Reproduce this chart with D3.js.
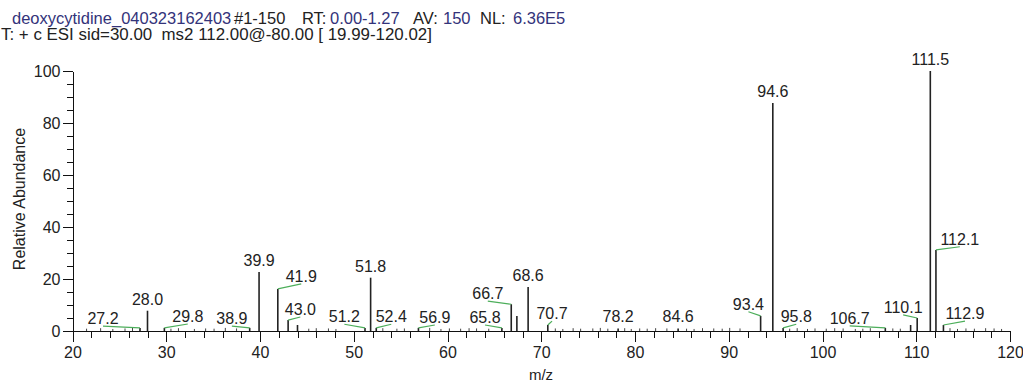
<!DOCTYPE html>
<html>
<head>
<meta charset="utf-8">
<script src="https://cdn.jsdelivr.net/npm/d3@7"></script>
<style>
	body { margin: 0; background: #fff; }
	svg { display: block; font-family: "Liberation Sans", Arial, sans-serif; }
	.axis path, .axis line { stroke: #111; shape-rendering: crispEdges; }
	.axis text { font-size: 16px; fill: #222; font-family: "Liberation Sans", Arial, sans-serif; }
	.peak { stroke: #222; stroke-width: 1.6; }
	.noise { stroke: #444; stroke-width: 1; }
	.peak-label { font-size: 16px; fill: #222; }
	.leader { stroke: #4cae5a; stroke-width: 1.2; fill: none; }
	.hdr { white-space: pre; }
	.hdr-key { fill: #222; }
	.hdr-val { fill: #33337a; }
</style>
</head>
<body>
<svg id="spectrum" width="1023" height="383" viewBox="0 0 1023 383"></svg>
<script>

// peaks (m/z, relative abundance %)
const PEAK_MZ = [27.2, 28.0, 29.8, 38.9, 39.9, 41.9, 43.0, 44.0, 51.2, 51.8, 52.4, 56.9, 65.8, 66.8, 67.4, 68.6, 70.7, 78.2, 84.6, 93.4, 94.7, 95.8, 106.7, 109.4, 110.1, 111.5, 112.1, 112.9];
const PEAK_AB = [1.2, 7.8, 1.2, 1.2, 22.7, 16.2, 4.2, 2.3, 1.2, 20.5, 1.2, 1.2, 1.2, 10.3, 5.8, 16.9, 2.3, 1.0, 1.0, 5.8, 87.7, 1.2, 1.2, 2.3, 5.0, 100, 31.2, 2.3];
const PEAK_LABEL = ['27.2', '28.0', '29.8', '38.9', '39.9', '41.9', '43.0', '', '51.2', '51.8', '52.4', '56.9', '65.8', '66.7', '', '68.6', '70.7', '78.2', '84.6', '93.4', '94.6', '95.8', '106.7', '', '110.1', '111.5', '112.1', '112.9'];
// where the software moved a label to (m/z, abundance); null = right above the peak
const LABEL_MZ = [23.25, null, 32.3, 37.0, null, 44.4, 44.3, null, 49.0, null, 54.0, 58.65, 64.0, 64.3, null, null, 71.15, null, null, 92.1, null, 97.2, 102.9, null, 108.6, null, 114.65, 115.2];
const LABEL_AB = [1.9, null, 2.7, 1.9, null, 18.1, 5.4, null, 2.6, null, 2.6, 2.3, 2.3, 11.5, null, null, 3.8, null, null, 7.4, null, 2.6, 2.0, null, 6.2, null, 32.4, 3.8];

// baseline noise specks
const NOISE_MZ = [21.5, 23.0, 24.3, 25.6, 26.4, 30.5, 31.3, 33.0, 34.2, 35.1, 36.3, 37.5, 45.2, 46.0, 47.3, 48.1, 53.1, 54.6, 55.4, 58.1, 59.3, 60.2, 61.4, 62.3, 63.1, 64.4, 71.5, 72.3, 73.4, 74.2, 75.5, 76.3, 77.1, 78.9, 79.6, 80.5, 81.3, 82.2, 83.4, 85.5, 86.3, 87.2, 88.4, 89.3, 90.1, 91.2, 96.5, 97.3, 98.4, 99.2, 100.4, 101.3, 102.2, 103.5, 104.3, 105.1, 107.5, 108.3, 113.6, 114.4, 115.3, 116.2, 117.4, 118.3, 119.1];
const NOISE_AB = [0.5, 0.7, 0.4, 0.6, 0.8, 0.5, 0.7, 0.4, 0.6, 0.5, 0.8, 0.6, 0.5, 0.7, 0.6, 0.4, 0.7, 0.5, 0.6, 0.8, 0.4, 0.6, 0.5, 0.7, 0.6, 0.5, 0.6, 0.4, 0.7, 0.5, 0.6, 0.8, 0.5, 0.7, 0.4, 0.6, 0.5, 0.7, 0.6, 0.5, 0.4, 0.7, 0.6, 0.5, 0.8, 0.6, 0.5, 0.7, 0.4, 0.6, 0.5, 0.7, 0.6, 0.4, 0.5, 0.7, 0.6, 0.5, 0.7, 0.4, 0.6, 0.5, 0.7, 0.6, 0.4];

const X_DOMAIN = [20, 120];
const Y_DOMAIN = [0, 100];
const X_MAJOR = d3.range(20, 121, 10);
const X_MINOR = d3.range(20, 121, 2);
const Y_MAJOR = d3.range(0, 101, 20);
const Y_MINOR = d3.range(0, 101, 5);

// header pieces: [text, is value, x]
const HEADER_1 = [['deoxycytidine_040323162403', true, 12], ['#1-150', false, 234], ['RT:', false, 302], ['0.00-1.27', true, 330],
	['AV:', false, 413], ['150', true, 443], ['NL:', false, 480], ['6.36E5', true, 513]];
const HEADER_2 = [['T: + c ESI sid=30.00  ms2 112.00@-80.00 [ 19.99-120.02]', false, 1]];

class SpectrumPlot {
	constructor(svg_element_id) {
		this.svg = d3.select('#' + svg_element_id);

		const x = d3.scaleLinear().domain(X_DOMAIN).range([72.5, 1010]);
		const y = d3.scaleLinear().domain(Y_DOMAIN).range([331, 71]);

		// header
		[[HEADER_1, 24, 16.5], [HEADER_2, 40, 16.9]].forEach(([parts, ty, fs]) => {
			const t = this.svg.append('text')
				.attr('class', 'hdr')
				.attr('y', ty)
				.style('font-size', fs + 'px');
			parts.forEach(p => {
				t.append('tspan')
					.attr('x', p[2])
					.attr('class', p[1] ? 'hdr-val' : 'hdr-key')
					.text(p[0]);
			});
		});

		// minor ticks first, then the major axis on top
		this.svg.append('g')
			.attr('class', 'axis')
			.attr('transform', 'translate(0,331)')
			.call(d3.axisBottom(x).tickValues(X_MINOR).tickSize(7).tickSizeOuter(0).tickFormat(''));
		this.svg.append('g')
			.attr('class', 'axis')
			.attr('transform', 'translate(0,331)')
			.call(d3.axisBottom(x).tickValues(X_MAJOR).tickSize(11).tickSizeOuter(0).tickPadding(5).tickFormat(d3.format('d')));

		this.svg.append('g')
			.attr('class', 'axis')
			.attr('transform', 'translate(72.5,0)')
			.call(d3.axisLeft(y).tickValues(Y_MINOR).tickSize(6).tickSizeOuter(0).tickFormat(''));
		this.svg.append('g')
			.attr('class', 'axis')
			.attr('transform', 'translate(72.5,0)')
			.call(d3.axisLeft(y).tickValues(Y_MAJOR).tickSize(10).tickSizeOuter(0).tickPadding(2).tickFormat(d3.format('d')));

		// axis titles
		this.svg.append('text')
			.attr('transform', 'translate(25,199) rotate(-90)')
			.attr('text-anchor', 'middle')
			.style('font-size', '16px')
			.style('fill', '#222')
			.text('Relative Abundance');
		this.svg.append('text')
			.attr('x', 541)
			.attr('y', 380)
			.attr('text-anchor', 'middle')
			.style('font-size', '15px')
			.style('fill', '#222')
			.text('m/z');

		// noise
		const noise = NOISE_MZ.map((mz, i) => ({mz: mz, ab: NOISE_AB[i]}));
		this.svg.append('g')
			.selectAll('line')
			.data(noise)
			.enter()
			.append('line')
				.attr('class', 'noise')
				.attr('x1', d => x(d.mz))
				.attr('x2', d => x(d.mz))
				.attr('y1', y(0))
				.attr('y2', d => y(d.ab) - 1);

		const peaks = PEAK_MZ.map((mz, i) => ({
			mz: mz, ab: PEAK_AB[i], label: PEAK_LABEL[i],
			lmz: LABEL_MZ[i], lab: LABEL_AB[i]
		}));

		this.svg.append('g')
			.selectAll('line')
			.data(peaks)
			.enter()
			.append('line')
				.attr('class', 'peak')
				.attr('x1', d => x(d.mz))
				.attr('x2', d => x(d.mz))
				.attr('y1', y(0))
				.attr('y2', d => y(d.ab));

		const labelled = peaks.filter(d => d.label !== '');
		const moved = labelled.filter(d => d.lmz !== null);

		// green leader lines from peak to moved label
		this.svg.append('g')
			.selectAll('line')
			.data(moved)
			.enter()
			.append('line')
				.attr('class', 'leader')
				.attr('x1', d => x(d.mz))
				.attr('y1', d => Math.min(y(d.ab), y(0) - 2))
				.attr('x2', d => x(d.lmz))
				.attr('y2', d => y(d.lab));

		this.svg.append('g')
			.selectAll('text')
			.data(labelled)
			.enter()
			.append('text')
				.attr('class', 'peak-label')
				.attr('text-anchor', 'middle')
				.attr('x', d => d.lmz !== null ? x(d.lmz) : x(d.mz))
				.attr('y', d => d.lmz !== null ? y(d.lab) - 2 : y(d.ab) - 6)
				.text(d => d.label);
	}
}

function whenDocumentLoaded(action) {
	if (document.readyState === "loading") {
		document.addEventListener("DOMContentLoaded", action);
	} else {
		action();
	}
}

whenDocumentLoaded(() => {
	plot_object = new SpectrumPlot('spectrum');
});
</script>
</body>
</html>
